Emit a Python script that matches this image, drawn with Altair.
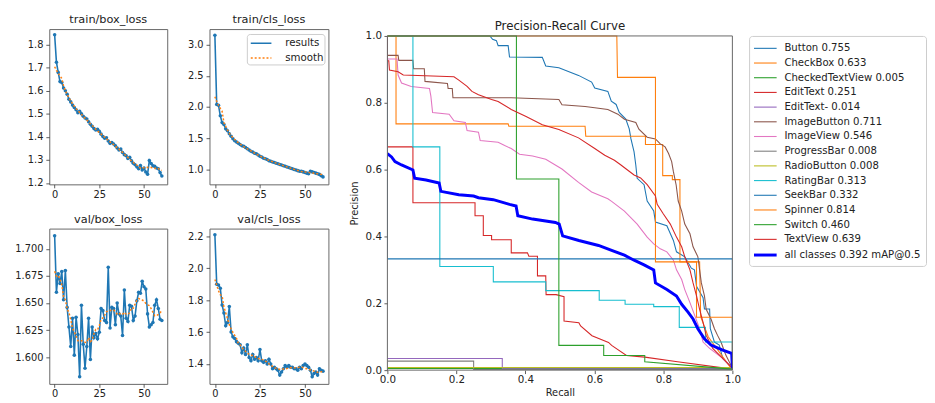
import altair as alt
import pandas as pd

# ---------------- training curves ----------------
EPOCHS = list(range(61))

TRAIN_BOX = [1.843, 1.724, 1.680, 1.640, 1.636, 1.612, 1.600, 1.585, 1.563, 1.552,
             1.538, 1.528, 1.518, 1.505, 1.511, 1.500, 1.490, 1.482, 1.478, 1.466,
             1.455, 1.446, 1.436, 1.430, 1.433, 1.424, 1.412, 1.402, 1.394, 1.396,
             1.382, 1.372, 1.376, 1.369, 1.362, 1.352, 1.343, 1.347, 1.332, 1.323,
             1.318, 1.306, 1.312, 1.296, 1.286, 1.279, 1.270, 1.262, 1.276, 1.256,
             1.265, 1.248, 1.238, 1.298, 1.285, 1.275, 1.272, 1.265, 1.262, 1.245,
             1.230]

TRAIN_CLS = [3.15, 2.04, 2.03, 1.86, 1.75, 1.72, 1.65, 1.62, 1.57, 1.53,
             1.49, 1.46, 1.44, 1.42, 1.40, 1.38, 1.37, 1.35, 1.33, 1.31,
             1.29, 1.28, 1.26, 1.25, 1.23, 1.21, 1.20, 1.18, 1.17, 1.16,
             1.14, 1.13, 1.12, 1.11, 1.10, 1.09, 1.08, 1.07, 1.06, 1.05,
             1.04, 1.03, 1.02, 1.01, 1.00, 0.99, 0.98, 0.97, 0.97, 0.96,
             0.95, 0.94, 0.93, 0.97, 0.96, 0.95, 0.94, 0.93, 0.92, 0.90,
             0.88]

VAL_BOX = [1.712, 1.660, 1.677, 1.668, 1.679, 1.653, 1.680, 1.646, 1.628, 1.610,
           1.636, 1.602, 1.637, 1.621, 1.582, 1.648, 1.612, 1.590, 1.610, 1.636,
           1.598, 1.628, 1.618, 1.622, 1.617, 1.623, 1.645, 1.643, 1.634, 1.632,
           1.683, 1.627, 1.646, 1.645, 1.630, 1.650, 1.640, 1.638, 1.620, 1.662,
           1.636, 1.633, 1.648, 1.647, 1.634, 1.638, 1.652, 1.660, 1.659, 1.670,
           1.665, 1.663, 1.640, 1.628, 1.630, 1.632, 1.648, 1.653, 1.645, 1.635,
           1.634]

VAL_CLS = [2.21, 1.90, 1.895, 1.875, 1.77, 1.72, 1.64, 1.66, 1.76, 1.60,
           1.57, 1.56, 1.54, 1.53, 1.52, 1.47, 1.50, 1.46, 1.52, 1.44,
           1.42, 1.46, 1.43, 1.44, 1.42, 1.49, 1.42, 1.41, 1.42, 1.40,
           1.43, 1.40, 1.37, 1.38, 1.37, 1.36, 1.33, 1.35, 1.37, 1.39,
           1.38, 1.39, 1.38, 1.38, 1.37, 1.37, 1.36, 1.38, 1.37, 1.39,
           1.40, 1.39, 1.38, 1.36, 1.32, 1.34, 1.35, 1.33, 1.37, 1.36,
           1.355]

SERIES = ["results", "smooth"]
X_TICKS = [0, 25, 50]

# ---------------- precision-recall curves (recall, precision) ----------------
CLASS_NAMES = ["Button", "CheckBox", "CheckedTextView", "EditText", "EditText-",
               "ImageButton", "ImageView", "ProgressBar", "RadioButton", "RatingBar",
               "SeekBar", "Spinner", "Switch", "TextView"]
CLASS_AP = [0.755, 0.633, 0.005, 0.251, 0.014, 0.711, 0.546, 0.008, 0.008, 0.313,
            0.332, 0.814, 0.460, 0.639]
MAP50 = 0.392

BUTTON = [[0, 1], [0.297, 1], [0.305, 0.99], [0.316, 0.986], [0.321, 0.971], [0.35, 0.971],
          [0.354, 0.937], [0.449, 0.936], [0.459, 0.91], [0.497, 0.905], [0.554, 0.882],
          [0.592, 0.862], [0.601, 0.844], [0.639, 0.834], [0.649, 0.805], [0.663, 0.795],
          [0.672, 0.771], [0.691, 0.751], [0.701, 0.722], [0.706, 0.692], [0.715, 0.653],
          [0.72, 0.614], [0.724, 0.574], [0.744, 0.555], [0.753, 0.506], [0.772, 0.476],
          [0.777, 0.443], [0.81, 0.432], [0.829, 0.388], [0.838, 0.354], [0.862, 0.339],
          [0.881, 0.305], [0.89, 0.30], [0.896, 0.251], [0.915, 0.217], [0.919, 0.183],
          [0.934, 0.183], [0.936, 0.124], [0.948, 0.084], [0.962, 0.075], [0.972, 0.035],
          [1.0, 0.006]]
CHECKBOX = [[0, 1], [0.025, 1], [0.025, 0.737], [0.35, 0.737], [0.352, 0.73], [0.573, 0.73],
            [0.575, 0.70], [0.748, 0.70], [0.748, 0.675], [0.798, 0.675], [0.798, 0.582],
            [0.826, 0.582], [0.826, 0.57], [0.848, 0.57], [0.848, 0.324], [0.905, 0.324],
            [0.908, 0.16], [0.93, 0.10], [1.0, 0.0]]
CHECKEDTEXTVIEW = [[0, 0.005], [1.0, 0.005]]
EDITTEXT = [[0, 0.668], [0.074, 0.668], [0.074, 0.501], [0.254, 0.501], [0.254, 0.462],
            [0.278, 0.462], [0.278, 0.403], [0.302, 0.403], [0.302, 0.39], [0.359, 0.39],
            [0.359, 0.351], [0.406, 0.351], [0.41, 0.341], [0.435, 0.341], [0.435, 0.282],
            [0.459, 0.282], [0.46, 0.226], [0.489, 0.226], [0.512, 0.22], [0.512, 0.147],
            [0.555, 0.142], [0.56, 0.132], [0.593, 0.103], [0.641, 0.083], [0.65, 0.074],
            [0.693, 0.044], [0.746, 0.039], [0.841, 0.025], [1.0, 0.003]]
EDITTEXT_ = [[0, 0.035], [0.333, 0.035], [0.333, 0.004], [1.0, 0.004]]
IMAGEBUTTON = [[0, 0.942], [0.031, 0.942], [0.033, 0.927], [0.074, 0.927], [0.076, 0.902],
               [0.107, 0.902], [0.109, 0.864], [0.174, 0.858], [0.176, 0.843], [0.188, 0.843],
               [0.19, 0.815], [0.359, 0.815], [0.497, 0.81], [0.506, 0.794], [0.573, 0.789],
               [0.601, 0.785], [0.639, 0.78], [0.668, 0.766], [0.687, 0.751], [0.72, 0.741],
               [0.729, 0.721], [0.753, 0.697], [0.777, 0.692], [0.791, 0.677], [0.805, 0.668],
               [0.815, 0.648], [0.824, 0.624], [0.829, 0.594], [0.837, 0.554], [0.843, 0.506],
               [0.853, 0.476], [0.862, 0.437], [0.877, 0.408], [0.886, 0.369], [0.9, 0.339],
               [0.905, 0.3], [0.91, 0.261], [0.919, 0.222], [0.924, 0.182], [0.938, 0.153],
               [0.948, 0.124], [0.957, 0.104], [0.967, 0.084], [0.981, 0.045], [1.0, 0.006]]
IMAGEVIEW = [[0, 0.931], [0.028, 0.931], [0.031, 0.883], [0.041, 0.859], [0.069, 0.849],
             [0.122, 0.843], [0.126, 0.82], [0.131, 0.771], [0.179, 0.766], [0.193, 0.746],
             [0.226, 0.741], [0.231, 0.717], [0.264, 0.712], [0.269, 0.687], [0.321, 0.682],
             [0.34, 0.672], [0.359, 0.663], [0.383, 0.646], [0.421, 0.641], [0.459, 0.631],
             [0.506, 0.602], [0.554, 0.562], [0.592, 0.533], [0.639, 0.513], [0.65, 0.505],
             [0.687, 0.476], [0.724, 0.437], [0.753, 0.398], [0.772, 0.378], [0.791, 0.363],
             [0.81, 0.354], [0.829, 0.329], [0.838, 0.3], [0.853, 0.271], [0.862, 0.241],
             [0.877, 0.202], [0.891, 0.163], [0.905, 0.124], [0.915, 0.084], [0.934, 0.065],
             [0.972, 0.035], [1.0, 0.006]]
PROGRESSBAR = [[0, 0.027], [0.25, 0.027], [0.25, 0.002], [1.0, 0.002]]
RADIOBUTTON = [[0, 0.008], [1.0, 0.008]]
RATINGBAR = [[0, 1], [0.074, 1], [0.074, 0.668], [0.152, 0.668], [0.152, 0.31], [0.307, 0.31],
             [0.307, 0.264], [0.459, 0.264], [0.459, 0.238], [0.614, 0.238], [0.614, 0.209],
             [0.689, 0.209], [0.689, 0.197], [0.772, 0.197], [0.772, 0.19], [0.846, 0.19],
             [0.846, 0.128], [0.922, 0.128], [0.922, 0.084], [1.0, 0.084], [1.0, 0.0]]
SEEKBAR = [[0, 1], [0, 0.333], [1.0, 0.333], [1.0, 0.0]]
SPINNER = [[0, 1], [0.665, 1], [0.667, 0.876], [0.777, 0.876], [0.777, 0.324], [0.896, 0.324],
           [0.896, 0.158], [1.0, 0.158], [1.0, 0.0]]
SWITCH = [[0, 1], [0.374, 1], [0.374, 0.572], [0.497, 0.572], [0.497, 0.074], [0.627, 0.074],
          [0.627, 0.044], [0.746, 0.044], [0.746, 0.025], [1.0, 0.003]]
TEXTVIEW = [[0, 1], [0, 0.926], [0.004, 0.926], [0.006, 0.898], [0.031, 0.893], [0.046, 0.883],
            [0.193, 0.878], [0.207, 0.868], [0.231, 0.849], [0.245, 0.834], [0.264, 0.824],
            [0.302, 0.81], [0.321, 0.804], [0.359, 0.78], [0.402, 0.759], [0.449, 0.734],
            [0.497, 0.72], [0.554, 0.695], [0.601, 0.663], [0.63, 0.643], [0.658, 0.628],
            [0.677, 0.614], [0.696, 0.599], [0.715, 0.584], [0.734, 0.575], [0.753, 0.555],
            [0.777, 0.521], [0.782, 0.496], [0.8, 0.467], [0.82, 0.437], [0.838, 0.398],
            [0.853, 0.369], [0.862, 0.339], [0.877, 0.3], [0.886, 0.261], [0.896, 0.222],
            [0.905, 0.182], [0.915, 0.143], [0.924, 0.104], [0.943, 0.065], [0.972, 0.035],
            [1.0, 0.006]]
ALL_CLASSES = [[0, 0.648], [0.012, 0.638], [0.022, 0.624], [0.041, 0.614], [0.074, 0.599],
               [0.079, 0.574], [0.112, 0.569], [0.15, 0.56], [0.155, 0.535], [0.207, 0.525],
               [0.25, 0.521], [0.264, 0.516], [0.307, 0.51], [0.354, 0.496], [0.373, 0.491],
               [0.378, 0.462], [0.421, 0.452], [0.487, 0.442], [0.498, 0.437], [0.508, 0.402],
               [0.555, 0.388], [0.612, 0.373], [0.65, 0.358], [0.687, 0.344], [0.715, 0.329],
               [0.744, 0.315], [0.772, 0.3], [0.777, 0.261], [0.81, 0.241], [0.838, 0.222],
               [0.853, 0.197], [0.872, 0.173], [0.886, 0.153], [0.9, 0.124], [0.919, 0.094],
               [0.938, 0.075], [0.972, 0.06], [0.998, 0.05], [1.0, 0.006]]

CLASS_CURVES = [BUTTON, CHECKBOX, CHECKEDTEXTVIEW, EDITTEXT, EDITTEXT_, IMAGEBUTTON, IMAGEVIEW,
                PROGRESSBAR, RADIOBUTTON, RATINGBAR, SEEKBAR, SPINNER, SWITCH, TEXTVIEW]

CLASS_COLORS = ["#1f77b4", "#ff7f0e", "#2ca02c", "#d62728", "#9467bd", "#8c564b", "#e377c2",
                "#7f7f7f", "#bcbd22", "#17becf", "#1f77b4", "#ff7f0e", "#2ca02c", "#d62728"]
ALL_COLOR = "#0000ff"
PR_TICKS = [0.0, 0.2, 0.4, 0.6, 0.8, 1.0]

BLUE = "#1f77b4"
ORANGE = "#ff7f0e"
FONT = "DejaVu Sans"
TXT = "#222222"
FRAME = "#666666"


# ---------------- small loss panels ----------------
def loss_panel(title, values, ydomain, yticks, yfmt, width, yext, legend=False):
    df = pd.DataFrame({"epoch": EPOCHS, "value": values, "series": "results"})
    x = alt.X("epoch:Q", scale=alt.Scale(domain=[-3, 63], nice=False, zero=False),
              axis=alt.Axis(values=X_TICKS, title=None, labelFontSize=10, labelPadding=1.5,
                            minExtent=15, maxExtent=15, labelFlush=False))
    y = alt.Y("value:Q", scale=alt.Scale(domain=ydomain, nice=False, zero=False),
              axis=alt.Axis(values=yticks, format=yfmt, title=None, labelFontSize=10,
                            labelPadding=3, minExtent=yext, maxExtent=yext, labelFlush=False))
    if legend:
        leg = alt.Legend(title=None, orient="none", legendX=38, legendY=5, columns=1,
                         symbolType="M-1.4,0H1.4", symbolSize=225, symbolStrokeWidth=1.5,
                         symbolOffset=5, labelOffset=16, padding=1, rowPadding=1,
                         fillColor="white", strokeColor="#cccccc", cornerRadius=3,
                         labelFontSize=10.4, labelFont=FONT, labelColor=TXT)
        leg2 = leg
    else:
        leg = None
        leg2 = None
    color = alt.Color("series:N", scale=alt.Scale(domain=SERIES, range=[BLUE, ORANGE]), legend=leg)
    dash = alt.StrokeDash("series:N", scale=alt.Scale(domain=SERIES, range=[[1, 0], [2, 2]]),
                          legend=leg2)
    base = alt.Chart(df)
    line = base.mark_line(strokeWidth=1.6, clip=True).encode(x=x, y=y, color=color, strokeDash=dash)
    pts = base.mark_circle(size=13, color=BLUE, opacity=1, clip=True).encode(x=x, y=y)
    smooth = (base.transform_window(sm="mean(value)", frame=[-4, 4], sort=[{"field": "epoch"}])
              .transform_calculate(value="datum.sm", series="'smooth'")
              .mark_line(strokeWidth=1.5, clip=True)
              .encode(x=x, y=y, color=color, strokeDash=dash))
    return alt.layer(line, pts, smooth).properties(
        width=width, height=158,
        title=alt.TitleParams(title, fontSize=11.5, fontWeight="normal", offset=3.6,
                              font=FONT, color=TXT))


p1 = loss_panel("train/box_loss", TRAIN_BOX, [1.194, 1.868], [1.2, 1.3, 1.4, 1.5, 1.6, 1.7, 1.8],
                ".1f", 120, 41)
p2 = loss_panel("train/cls_loss", TRAIN_CLS, [0.76, 3.25], [1.0, 1.5, 2.0, 2.5, 3.0],
                ".1f", 121, 30, legend=True)
p3 = loss_panel("val/box_loss", VAL_BOX, [1.5755, 1.7186], [1.600, 1.625, 1.650, 1.675, 1.700],
                ".3f", 120, 41)
p4 = loss_panel("val/cls_loss", VAL_CLS, [1.275, 2.249], [1.4, 1.6, 1.8, 2.0, 2.2],
                ".1f", 121, 30)


def indep(c):
    return c.resolve_scale(color="independent", strokeDash="independent",
                           strokeWidth="independent").resolve_legend(
        color="independent", strokeDash="independent", strokeWidth="independent")


row1 = indep(alt.hconcat(p1, p2, spacing=11))
row2 = indep(alt.hconcat(p3, p4, spacing=11))
left = indep(alt.vconcat(row1, row2, spacing=13))

# ---------------- PR curve ----------------
labels = [f"{n} {a:.3f}" for n, a in zip(CLASS_NAMES, CLASS_AP)]
all_label = f"all classes {MAP50:.3f} mAP@0.5"
LABELS = labels + [all_label]
COLORS = CLASS_COLORS + [ALL_COLOR]
WIDTHS = [1.1] * len(labels) + [3]

rows = []
for lab, curve in zip(labels, CLASS_CURVES):
    for i, (r, p) in enumerate(curve):
        rows.append({"label": lab, "idx": i, "r": r, "p": p})
cls_df = pd.DataFrame(rows)
all_df = pd.DataFrame([{"label": all_label, "idx": i, "r": r, "p": p}
                       for i, (r, p) in enumerate(ALL_CLASSES)])
frame_df = pd.DataFrame({"r": [0.0], "r2": [1.0], "p": [0.0], "p2": [1.0]})

PR_W, PR_H, PR_TOP = 351, 347, 7   # plot frame starts PR_TOP px below the left panels' tops

pr_legend = alt.Legend(title=None, orient="none", legendX=PR_W + 17, legendY=PR_TOP,
                       columns=1, symbolType="M-1.55,0H1.55",
                       symbolSize=221, symbolOffset=2.9, labelOffset=10.4, padding=4.6,
                       rowPadding=0.95, fillColor="white", strokeColor="#cccccc", cornerRadius=3,
                       labelFontSize=10.3, labelFont=FONT, labelColor=TXT, labelLimit=300)
pr_color = alt.Color("label:N", scale=alt.Scale(domain=LABELS, range=COLORS), legend=pr_legend)
pr_width = alt.StrokeWidth("label:N", scale=alt.Scale(type="ordinal", domain=LABELS, range=WIDTHS),
                           legend=pr_legend)
pr_x = alt.X("r:Q", scale=alt.Scale(domain=[0, 1], nice=False),
             axis=alt.Axis(values=PR_TICKS, format=".1f", title="Recall", labelFontSize=10.5,
                           titleFontSize=10, labelPadding=1.5, titlePadding=2, labelFlush=False))
pr_y = alt.Y("p:Q", scale=alt.Scale(domain=[0, 1], nice=False, range=[PR_H, PR_TOP]),
             axis=alt.Axis(values=PR_TICKS, format=".1f", title="Precision", labelFontSize=10.5,
                           titleFontSize=10, labelPadding=2.5, titlePadding=5,
                           minExtent=23, maxExtent=23, labelFlush=False))

pr_cls = alt.Chart(cls_df).mark_line(clip=True).encode(
    x=pr_x, y=pr_y, color=pr_color, strokeWidth=pr_width, order=alt.Order("idx:Q"))
pr_all = alt.Chart(all_df).mark_line(clip=True).encode(
    x=pr_x, y=pr_y, color=pr_color, strokeWidth=pr_width, order=alt.Order("idx:Q"))
pr_frame = alt.Chart(frame_df).mark_rect(filled=False, color=FRAME, strokeWidth=1).encode(
    x=pr_x, x2="r2:Q", y=pr_y, y2="p2:Q")
pr = alt.layer(pr_cls, pr_all, pr_frame).properties(
    width=PR_W, height=PR_H,
    view=alt.ViewBackground(stroke="transparent"),
    title=alt.TitleParams("Precision-Recall Curve", fontSize=12, fontWeight="normal",
                          offset=-3.5, font=FONT, color=TXT))

chart = indep(alt.hconcat(left, pr, spacing=20)).properties(
    padding={"left": 0, "top": 2, "right": 0, "bottom": 0},
    background="white",
).configure_view(stroke=FRAME, strokeWidth=1).configure_axis(
    domain=False, grid=False, tickColor="#333333", tickWidth=0.8, tickSize=3.5,
    labelColor=TXT, labelFont=FONT, titleFont=FONT, titleFontWeight="normal", titleColor=TXT,
)

chart.save("out.html", embed_options={"renderer": "svg", "actions": False})
